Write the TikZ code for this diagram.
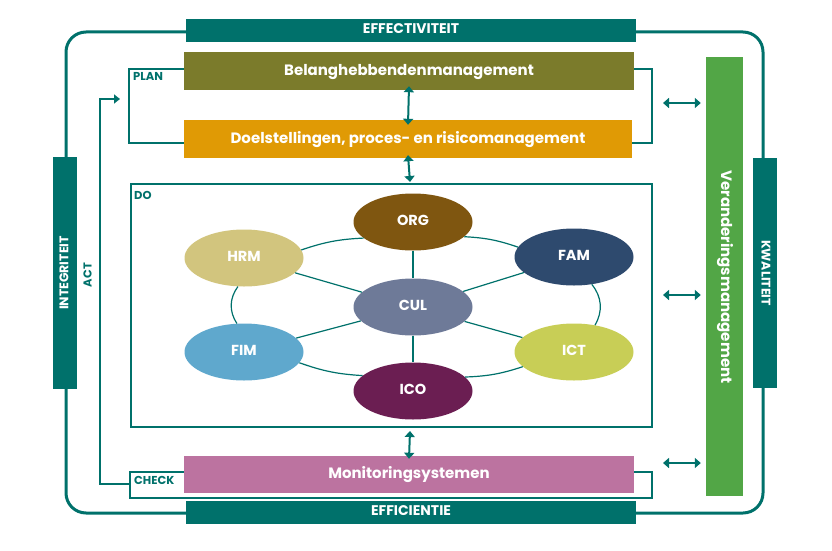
\documentclass[tikz,border=0pt]{standalone}
\usepackage{fontspec}
\setmainfont{Poppins}
\usetikzlibrary{arrows.meta,shapes.geometric}
\definecolor{teal}{HTML}{00716B}
\definecolor{olive}{HTML}{7B7B2B}
\definecolor{orng}{HTML}{E09A05}
\definecolor{pink}{HTML}{BC73A0}
\definecolor{grn}{HTML}{52A646}
\definecolor{cORG}{HTML}{7F5610}
\definecolor{cHRM}{HTML}{D2C57E}
\definecolor{cFAM}{HTML}{2E4A6E}
\definecolor{cCUL}{HTML}{6E7A98}
\definecolor{cFIM}{HTML}{5FA8CD}
\definecolor{cICT}{HTML}{C8CE56}
\definecolor{cICO}{HTML}{6B1E52}
\tikzset{
  bar/.style={draw=none,inner sep=0pt,text=white,text height=0.86em,text depth=0em,font=\bfseries\fontsize{15}{17}\selectfont},
  tealbar/.style={bar,fill=teal,text height=0.72em,text depth=0.04em,font=\bfseries\fontsize{14}{16}\selectfont},
  oval/.style={ellipse,draw=none,minimum width=119pt,minimum height=57pt,text=white,text height=0.72em,text depth=0em,font=\bfseries\fontsize{14.5}{16}\selectfont,inner sep=0pt},
  link/.style={draw=teal,line width=1.2pt},
  frame/.style={draw=teal,line width=2pt},
  tag/.style={text=teal,font=\bfseries\fontsize{11.5}{13}\selectfont,inner sep=0pt,text height=0.72em,text depth=0em},
  dbl/.style={teal,line width=2pt,{Triangle[length=6pt,width=10pt]}-{Triangle[length=6pt,width=10pt]}}
}
\begin{document}
\begin{tikzpicture}[x=1pt,y=-1pt]
\useasboundingbox (0,0) rectangle (832,551);
% outer rounded frame
\draw[teal,line width=3pt,rounded corners=20pt] (66,32) rectangle (763,513);
% PLAN bracket
\draw[frame] (184,69) -- (129,69) -- (129,143) -- (184,143);
\draw[frame] (630,69) -- (652,69) -- (652,143) -- (630,143);
% CHECK box
\draw[frame] (130,472) rectangle (652,498);
% DO box
\draw[frame] (131,184) rectangle (652,427);
% bars
\node[tealbar,minimum width=450pt,minimum height=23pt] (eff) at (411,30.5) {EFFECTIVITEIT};
\node[tealbar,minimum width=450pt,minimum height=23pt] (efc) at (411,512.5) {EFFICIENTIE};
\node[tealbar,minimum height=24pt,minimum width=232pt,rotate=90,font=\bfseries\fontsize{12.5}{14}\selectfont] (int) at (65,273) {INTEGRITEIT};
\node[tealbar,minimum height=24pt,minimum width=230pt,rotate=-90,font=\bfseries\fontsize{12.5}{14}\selectfont] (kwa) at (765,273) {KWALITEIT};
\node[bar,fill=olive,minimum width=450pt,minimum height=38pt] (bel) at (409,71) {Belanghebbendenmanagement};
\node[bar,fill=orng,minimum width=448pt,minimum height=38pt] (doel) at (408,139) {Doelstellingen, proces- en risicomanagement};
\node[bar,fill=pink,minimum width=450pt,minimum height=37pt] (mon) at (409,474.5) {Monitoringsystemen};
\node[bar,fill=grn,minimum width=37pt,minimum height=439pt] (ver) at (724.5,276.5) {};
\node[bar,rotate=-90,text height=0.72em,text depth=0.04em] (vertxt) at (724.5,277) {Veranderingsmanagement};
% tags
\node[tag,anchor=west] (plan) at (133,77) {PLAN};
\node[tag,anchor=west] (do) at (134,196) {DO};
\node[tag,anchor=west] (check) at (134,480.5) {CHECK};
\node[tag,rotate=90] (act) at (88,275) {ACT};
% ACT arrow
\coordinate (actstart) at (130,484);
\coordinate (actend) at (120,99);
\draw[frame,-{Triangle[length=6pt,width=9pt]}] (actstart) -- (100,484) -- (100,99) -- (actend);
% ellipses
\node[oval,fill=cORG] (ORG) at (413,222) {ORG};
\node[oval,fill=cHRM] (HRM) at (244,258) {HRM};
\node[oval,fill=cFAM] (FAM) at (574,257) {FAM};
\node[oval,fill=cCUL] (CUL) at (413,307) {CUL};
\node[oval,fill=cFIM] (FIM) at (244,352) {FIM};
\node[oval,fill=cICT] (ICT) at (574,352) {ICT};
\node[oval,fill=cICO] (ICO) at (413,391) {ICO};
% connectors
\draw[link] (ORG) -- (CUL);
\draw[link] (CUL) -- (ICO);
\draw[link] (HRM) -- (CUL);
\draw[link] (FIM) -- (CUL);
\draw[link] (FAM) -- (CUL);
\draw[link] (ICT) -- (CUL);
\draw[link] (HRM.8) to[bend left=8] (ORG.198);
\draw[link] (ORG.-16) to[bend left=8] (FAM.170);
\draw[link] (FIM.-11) to[bend right=8] (ICO.163);
\draw[link] (ICO.15) to[bend right=8] (ICT.196);
\draw[link] (HRM.258) to[bend right=35] (FIM.104);
\draw[link] (FAM.-57) to[bend left=35] (ICT.52);
% double arrows
\draw[dbl] ([yshift=4pt]bel.south) -- ([yshift=-5pt]doel.north);
\draw[dbl] ([yshift=3pt]doel.south) -- (410,182);
\draw[dbl] (410,431) -- ([yshift=-3pt]mon.north);
\coordinate (a1) at (663,103);
\coordinate (a2) at (663,295);
\coordinate (a3) at (663,463);
\draw[dbl,shorten >=5pt] (a1) -- (a1 -| ver.west);
\draw[dbl,shorten >=5pt] (a2) -- (a2 -| ver.west);
\draw[dbl,shorten >=5pt] (a3) -- (a3 -| ver.west);
\end{tikzpicture}
\end{document}
